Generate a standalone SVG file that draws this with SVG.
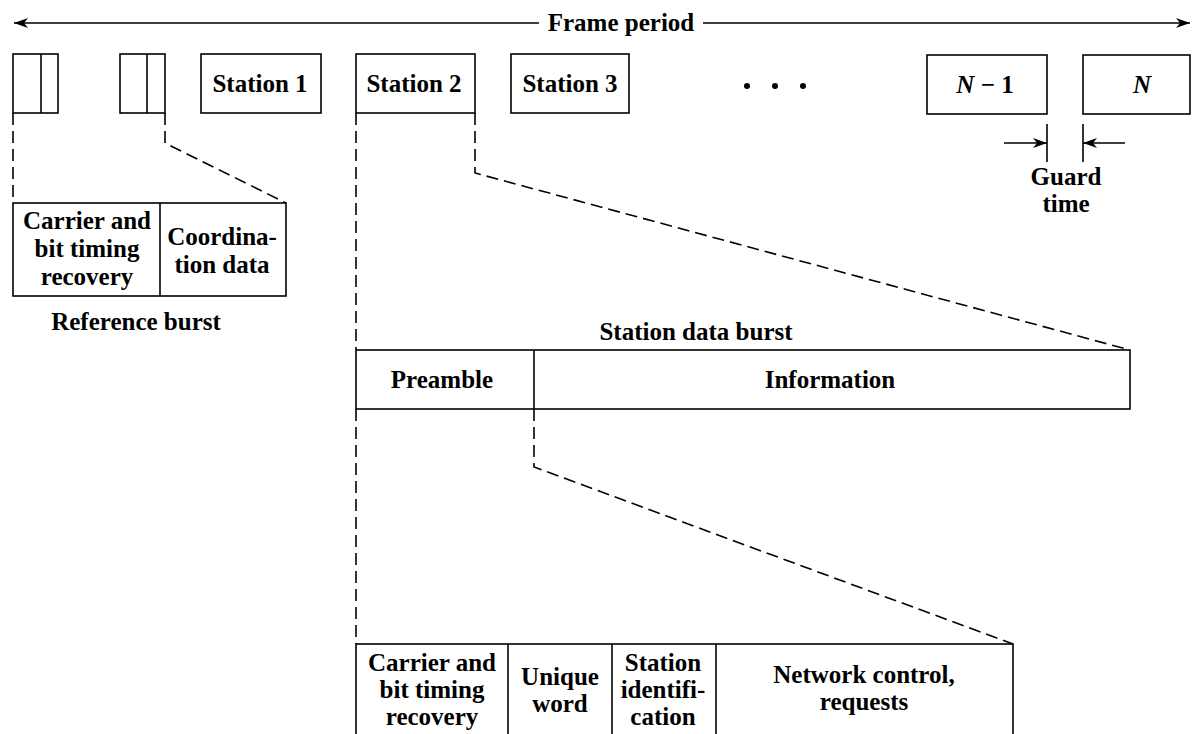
<svg xmlns="http://www.w3.org/2000/svg" width="1192" height="734" viewBox="0 0 1192 734">
<style>
  .box { fill: none; stroke: #000; stroke-width: 1.6; }
  .ln { fill: none; stroke: #000; stroke-width: 1.6; }
  .dash { fill: none; stroke: #000; stroke-width: 1.6; stroke-dasharray: 12 6; }
  text { font-family: "Liberation Serif", "Times New Roman", serif; font-weight: bold; font-size: 25px; fill: #000; text-anchor: middle; }
  .it { font-style: italic; }
</style>
<defs>
  <marker id="ah" viewBox="0 0 14 10" refX="14" refY="5" markerWidth="14" markerHeight="10" markerUnits="userSpaceOnUse" orient="auto">
    <path d="M0,0 L14,5 L0,10 L4,5 Z" fill="#000"/>
  </marker>
</defs>
<rect width="1192" height="734" fill="#fff"/>

<g id="connectors">
  <!-- frame period arrow -->
  <line class="ln" x1="539" y1="23" x2="14" y2="23" marker-end="url(#ah)"/>
  <line class="ln" x1="703" y1="23" x2="1190" y2="23" marker-end="url(#ah)"/>
  <!-- guard time -->
  <line class="ln" x1="1047" y1="124" x2="1047" y2="162"/>
  <line class="ln" x1="1083" y1="124" x2="1083" y2="162"/>
  <line class="ln" x1="1004" y1="143" x2="1047" y2="143" marker-end="url(#ah)"/>
  <line class="ln" x1="1125" y1="143" x2="1083" y2="143" marker-end="url(#ah)"/>
  <!-- reference burst expansion -->
  <polyline class="dash" points="13,113 13,203"/>
  <polyline class="dash" points="165,113 165,143 286,203"/>
  <!-- station 2 expansion -->
  <polyline class="dash" points="356,113 356,350"/>
  <polyline class="dash" points="475,113 475,173 1130,350"/>
  <!-- preamble expansion -->
  <polyline class="dash" points="356,409 356,644"/>
  <polyline class="dash" points="534,409 534,467 1013,644"/>
</g>

<g id="frame-label"><text x="621" y="31">Frame period</text></g>

<g id="ref-burst-1">
  <rect class="box" x="13" y="54" width="45" height="59"/>
  <line class="ln" x1="41" y1="54" x2="41" y2="113"/>
</g>
<g id="ref-burst-2">
  <rect class="box" x="120" y="54" width="45" height="59"/>
  <line class="ln" x1="147" y1="54" x2="147" y2="113"/>
</g>
<g id="station-1">
  <rect class="box" x="201" y="54" width="120" height="59"/>
  <text x="260" y="92">Station 1</text>
</g>
<g id="station-2">
  <rect class="box" x="356" y="54" width="119" height="59"/>
  <text x="414" y="92">Station 2</text>
</g>
<g id="station-3">
  <rect class="box" x="511" y="54" width="118" height="59"/>
  <text x="570" y="92">Station 3</text>
</g>
<g id="ellipsis">
  <circle cx="747" cy="86" r="3"/>
  <circle cx="775" cy="86" r="3"/>
  <circle cx="803" cy="86" r="3"/>
</g>
<g id="station-n-1">
  <rect class="box" x="927" y="55" width="120" height="59"/>
  <text x="985" y="93"><tspan class="it">N</tspan> − 1</text>
</g>
<g id="station-n">
  <rect class="box" x="1083" y="55" width="107" height="59"/>
  <text x="1142" y="93" class="it">N</text>
</g>
<g id="guard-time">
  <text x="1066" y="185">Guard</text>
  <text x="1066" y="212">time</text>
</g>

<g id="reference-burst">
  <rect class="box" x="13" y="203" width="273" height="93"/>
  <line class="ln" x1="160" y1="203" x2="160" y2="296"/>
  <text x="87" y="229">Carrier and</text>
  <text x="87" y="257">bit timing</text>
  <text x="87" y="285">recovery</text>
  <text x="222" y="245">Coordina-</text>
  <text x="222" y="273">tion data</text>
  <text x="136" y="330">Reference burst</text>
</g>

<g id="station-data-burst">
  <text x="696" y="340">Station data burst</text>
  <rect class="box" x="356" y="350" width="774" height="59"/>
  <line class="ln" x1="534" y1="350" x2="534" y2="409"/>
  <text x="442" y="388">Preamble</text>
  <text x="830" y="388">Information</text>
</g>

<g id="preamble-detail">
  <rect class="box" x="356" y="644" width="657" height="110"/>
  <line class="ln" x1="508" y1="644" x2="508" y2="734"/>
  <line class="ln" x1="612" y1="644" x2="612" y2="734"/>
  <line class="ln" x1="716" y1="644" x2="716" y2="734"/>
  <text x="432" y="671">Carrier and</text>
  <text x="432" y="698">bit timing</text>
  <text x="432" y="725">recovery</text>
  <text x="560" y="685">Unique</text>
  <text x="560" y="712">word</text>
  <text x="663" y="671">Station</text>
  <text x="663" y="698">identifi-</text>
  <text x="663" y="725">cation</text>
  <text x="864" y="683">Network control,</text>
  <text x="864" y="710">requests</text>
</g>
</svg>
